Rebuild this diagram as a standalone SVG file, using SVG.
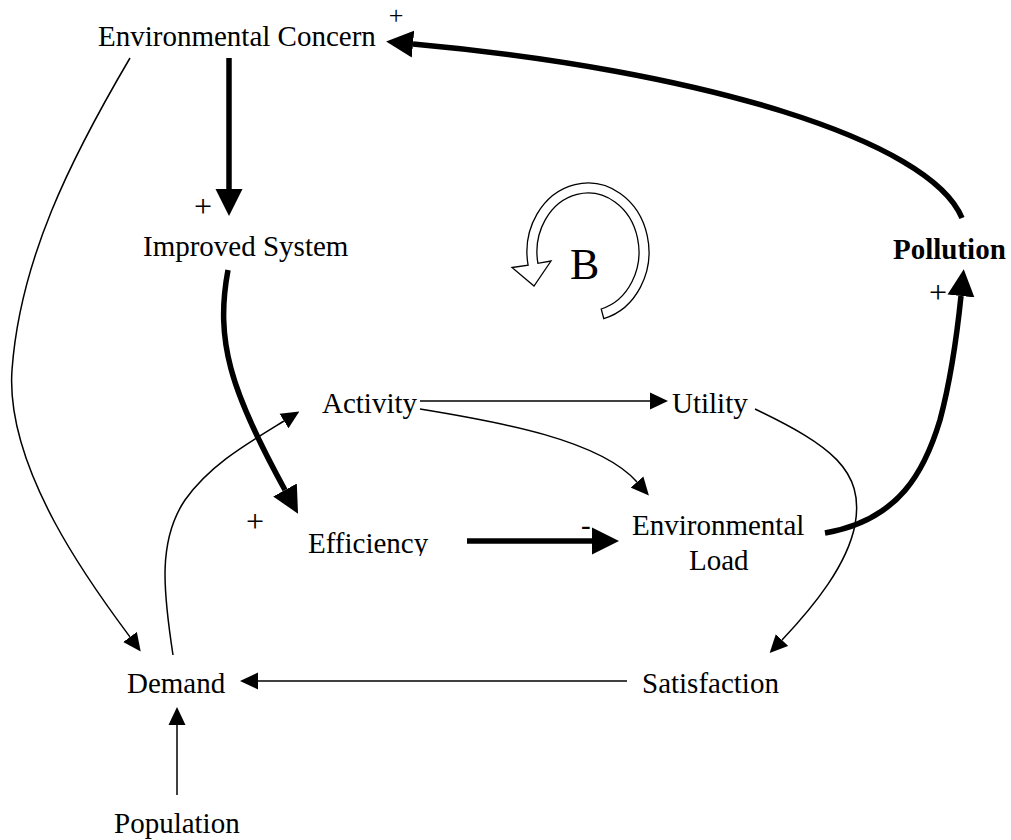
<svg xmlns="http://www.w3.org/2000/svg" width="1011" height="840" viewBox="0 0 1011 840">
  <style>
    text { font-family: "Liberation Serif", "Times New Roman", serif; font-size: 29px; fill: #000; }
    .bold { font-weight: bold; }
    .pol { font-size: 32px; text-anchor: middle; }
    .thin { fill: none; stroke: #000; stroke-width: 1.5; marker-end: url(#ah); }
    .thick { fill: none; stroke: #000; stroke-width: 5.5; marker-end: url(#ahb); }
    .loop { fill: #fff; stroke: #000; stroke-width: 1.3; stroke-linejoin: miter; }
  </style>
  <defs>
    <marker id="ah" viewBox="0 -9 18 18" refX="0" refY="0" markerWidth="18" markerHeight="18" markerUnits="userSpaceOnUse" orient="auto">
      <path d="M0,-8.5 L18,0 L0,8.5 Z" fill="#000"/>
    </marker>
    <marker id="ahb" viewBox="0 -14 27 28" refX="0" refY="0" markerWidth="27" markerHeight="28" markerUnits="userSpaceOnUse" orient="auto">
      <path d="M0,-13.5 L27,0 L0,13.5 Z" fill="#000"/>
    </marker>
    <clipPath id="effclip">
      <rect x="280" y="500" width="200" height="56"/>
    </clipPath>
  </defs>
  <rect width="1011" height="840" fill="#fff"/>

  <g id="connectors">
    <path class="thick" d="M962,218 C930,140 700,70 413,44"/>
    <path class="thick" d="M229,58 L229,189"/>
    <path class="thick" d="M228,270 C215,340 230,390 285,490"/>
    <path class="thick" d="M467,541 L592,541"/>
    <path class="thick" d="M825,533 C900,520 925,470 940,420 C952,375 957,335 961,296"/>
    <path class="thin" d="M420,401 L650,401"/>
    <path class="thin" d="M420,409 C500,422 600,440 637,482"/>
    <path class="thin" d="M755,409 C830,445 865,470 855,525 C847,565 815,605 782,640"/>
    <path class="thin" d="M627,681 L258,681"/>
    <path class="thin" d="M177,795 L177,725"/>
    <path class="thin" d="M130,58 C70,160 20,260 12,370 C5,470 95,590 130,637"/>
    <path class="thin" d="M173,655 C163,590 158,540 185,500 C210,465 245,445 284,421"/>
  </g>

  <g id="polarities">
    <text class="pol" x="396" y="24" style="font-size:26px">+</text>
    <text class="pol" x="203" y="217">+</text>
    <text class="pol" x="255" y="532">+</text>
    <text class="pol" x="938" y="303">+</text>
    <text x="581" y="535">-</text>
  </g>

  <g id="loop-B">
    <path class="loop" d="M603.8,318.6 A61,69 0 1 0 528.1,265.2 L512,267.5 L534,286 L551,261 L537.9,263.3 A51,59 0 1 1 601.2,309 Z"/>
    <text x="570" y="279" style="font-size:44px">B</text>
  </g>

  <g id="node-environmental-concern"><text x="98" y="46">Environmental Concern</text></g>
  <g id="node-improved-system"><text x="143" y="256">Improved System</text></g>
  <g id="node-pollution"><text class="bold" x="893" y="259">Pollution</text></g>
  <g id="node-activity"><text x="322" y="413">Activity</text></g>
  <g id="node-utility"><text x="672" y="413">Utility</text></g>
  <g id="node-efficiency"><text x="308" y="553" clip-path="url(#effclip)">Efficiency</text></g>
  <g id="node-environmental-load">
    <text x="632" y="535">Environmental</text>
    <text x="689" y="570">Load</text>
  </g>
  <g id="node-demand"><text x="127" y="693">Demand</text></g>
  <g id="node-satisfaction"><text x="642" y="693">Satisfaction</text></g>
  <g id="node-population"><text x="114" y="833">Population</text></g>
</svg>
